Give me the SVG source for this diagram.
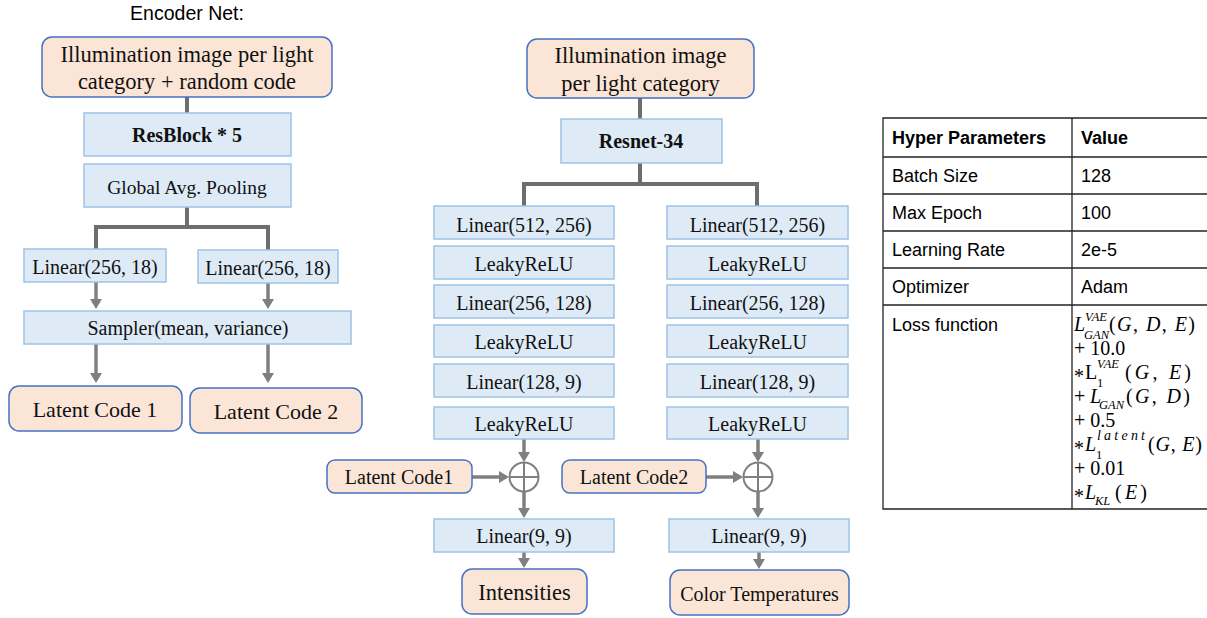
<svg xmlns="http://www.w3.org/2000/svg" width="1207" height="618" viewBox="0 0 1207 618">
<style>
.peach{fill:#fbe5d6;stroke:#4472c4;stroke-width:1.5}
.blue{fill:#deebf7;stroke:#9dc3e6;stroke-width:1.5}
.t{font-family:"Liberation Serif","Times New Roman",serif;fill:#111;text-anchor:middle;font-size:20px}
.b{font-weight:bold}
.tree{stroke:#6e6e6e;stroke-width:4;fill:none}
.arr{stroke:#7f7f7f;stroke-width:3.5;fill:none;marker-end:url(#ah)}
.circ{stroke:#7f7f7f;stroke-width:2;fill:none}
.tb{stroke:#222;stroke-width:1.3;fill:none}
.s{font-family:"Liberation Sans",Arial,sans-serif;font-size:18px;fill:#000}
.m{font-family:"Liberation Serif","Times New Roman",serif;font-size:20px;fill:#000}
.i{font-style:italic}
.sm{font-family:"Liberation Serif","Times New Roman",serif;font-size:12.5px;font-style:italic;fill:#000}
.up{font-style:normal}
</style>
<defs>
<marker id="ah" markerUnits="userSpaceOnUse" viewBox="0 0 10 12" markerWidth="10" markerHeight="12" refX="7" refY="6" orient="auto">
<path d="M0,0 L10,6 L0,12 z" fill="#7f7f7f"/>
</marker>
</defs>

<text x="187" y="20" font-family="Liberation Sans,Arial,sans-serif" font-size="19.5" text-anchor="middle" fill="#000">Encoder Net:</text>

<g id="connectors">
<line class="tree" x1="187" y1="97" x2="187" y2="113"/>
<polyline class="tree" points="96,249 96,227 268,227 268,250"/>
<line class="tree" x1="187" y1="207" x2="187" y2="227"/>
<line class="arr" x1="96" y1="282" x2="96" y2="306"/>
<line class="arr" x1="268" y1="283" x2="268" y2="306"/>
<line class="arr" x1="96" y1="344" x2="96" y2="380"/>
<line class="arr" x1="268" y1="344" x2="268" y2="380"/>

<line class="tree" x1="640" y1="98" x2="640" y2="119"/>
<line class="tree" x1="640" y1="163" x2="640" y2="184"/>
<polyline class="tree" points="524,206 524,184 757,184 757,206"/>

<line class="arr" x1="524" y1="439" x2="524" y2="459"/>
<line class="arr" x1="758" y1="439" x2="758" y2="459"/>
<line class="arr" x1="472" y1="477" x2="506" y2="477"/>
<line class="arr" x1="706" y1="477" x2="740" y2="477"/>
<line class="arr" x1="524" y1="491" x2="524" y2="515"/>
<line class="arr" x1="758" y1="491" x2="758" y2="515"/>
<line class="arr" x1="524" y1="552" x2="524" y2="565"/>
<line class="arr" x1="759" y1="552" x2="759" y2="566"/>
</g>

<g id="enc-input"><rect class="peach" x="42" y="37" width="290" height="60" rx="10"/>
<text class="t" x="187" y="62" style="font-size:22.5px">Illumination image per light</text>
<text class="t" x="187" y="89" style="font-size:22.5px">category + random code</text></g>
<g id="resblock"><rect class="blue" x="84" y="113" width="207" height="43"/><text class="t b" x="187" y="142">ResBlock * 5</text></g>
<g id="gap"><rect class="blue" x="84" y="164" width="207" height="43"/><text class="t" x="187" y="194" style="font-size:19.5px">Global Avg. Pooling</text></g>
<g id="enc-lin1"><rect class="blue" x="24" y="249" width="142" height="33"/><text class="t" x="95" y="274">Linear(256, 18)</text></g>
<g id="enc-lin2"><rect class="blue" x="198" y="250" width="140" height="33"/><text class="t" x="268" y="275">Linear(256, 18)</text></g>
<g id="sampler"><rect class="blue" x="24" y="311" width="327" height="33"/><text class="t" x="188" y="335">Sampler(mean, variance)</text></g>
<g id="lc1"><rect class="peach" x="9" y="386" width="173" height="45" rx="10"/><text class="t" x="95" y="417" style="font-size:22px">Latent Code 1</text></g>
<g id="lc2"><rect class="peach" x="190" y="388" width="172" height="45" rx="10"/><text class="t" x="276" y="419" style="font-size:22px">Latent Code 2</text></g>

<g id="dec-input"><rect class="peach" x="527" y="39" width="227" height="59" rx="10"/>
<text class="t" x="640.5" y="63" style="font-size:22.5px">Illumination image</text>
<text class="t" x="640.5" y="91" style="font-size:22.5px">per light category</text></g>
<g id="resnet"><rect class="blue" x="561" y="119" width="161" height="44"/><text class="t b" x="641" y="148">Resnet-34</text></g>

<g id="l-lin1"><rect class="blue" x="434" y="206" width="180" height="33"/><text class="t" x="524" y="232">Linear(512, 256)</text></g>
<g id="l-act1"><rect class="blue" x="434" y="246" width="180" height="33"/><text class="t" x="524" y="271">LeakyReLU</text></g>
<g id="l-lin2"><rect class="blue" x="434" y="285" width="180" height="33"/><text class="t" x="524" y="310">Linear(256, 128)</text></g>
<g id="l-act2"><rect class="blue" x="434" y="325" width="180" height="32"/><text class="t" x="524" y="349">LeakyReLU</text></g>
<g id="l-lin3"><rect class="blue" x="434" y="364" width="180" height="33"/><text class="t" x="524" y="389">Linear(128, 9)</text></g>
<g id="l-act3"><rect class="blue" x="434" y="407" width="180" height="32"/><text class="t" x="524" y="431">LeakyReLU</text></g>

<g id="r-lin1"><rect class="blue" x="667" y="206" width="181" height="33"/><text class="t" x="757.5" y="232">Linear(512, 256)</text></g>
<g id="r-act1"><rect class="blue" x="667" y="246" width="181" height="33"/><text class="t" x="757.5" y="271">LeakyReLU</text></g>
<g id="r-lin2"><rect class="blue" x="667" y="285" width="181" height="33"/><text class="t" x="757.5" y="310">Linear(256, 128)</text></g>
<g id="r-act2"><rect class="blue" x="667" y="325" width="181" height="32"/><text class="t" x="757.5" y="349">LeakyReLU</text></g>
<g id="r-lin3"><rect class="blue" x="667" y="364" width="181" height="33"/><text class="t" x="757.5" y="389">Linear(128, 9)</text></g>
<g id="r-act3"><rect class="blue" x="667" y="407" width="181" height="32"/><text class="t" x="757.5" y="431">LeakyReLU</text></g>

<g id="lcode1"><rect class="peach" x="327" y="460" width="145" height="33" rx="8"/><text class="t" x="399" y="484">Latent Code1</text></g>
<g id="lcode2"><rect class="peach" x="562" y="460" width="144" height="33" rx="8"/><text class="t" x="634" y="484">Latent Code2</text></g>
<g id="add1"><circle class="circ" cx="524" cy="477" r="14.5"/><line class="circ" x1="509.5" y1="477" x2="538.5" y2="477"/><line class="circ" x1="524" y1="462.5" x2="524" y2="491.5"/></g>
<g id="add2"><circle class="circ" cx="758" cy="477" r="14.5"/><line class="circ" x1="743.5" y1="477" x2="772.5" y2="477"/><line class="circ" x1="758" y1="462.5" x2="758" y2="491.5"/></g>
<g id="l-out"><rect class="blue" x="434" y="519" width="180" height="33"/><text class="t" x="524" y="543">Linear(9, 9)</text></g>
<g id="r-out"><rect class="blue" x="669" y="519" width="180" height="33"/><text class="t" x="759" y="543">Linear(9, 9)</text></g>
<g id="intens"><rect class="peach" x="462" y="569" width="125" height="45" rx="10"/><text class="t" x="524.5" y="600" style="font-size:22.5px">Intensities</text></g>
<g id="colortemp"><rect class="peach" x="670" y="570" width="179" height="45" rx="10"/><text class="t" x="759.5" y="601">Color Temperatures</text></g>

<g id="table">
<polyline class="tb" points="1207,118 883,118 883,509 1207,509"/>
<line class="tb" x1="1072" y1="118" x2="1072" y2="509"/>
<line class="tb" x1="883" y1="157" x2="1207" y2="157"/>
<line class="tb" x1="883" y1="194" x2="1207" y2="194"/>
<line class="tb" x1="883" y1="231" x2="1207" y2="231"/>
<line class="tb" x1="883" y1="268" x2="1207" y2="268"/>
<line class="tb" x1="883" y1="305" x2="1207" y2="305"/>
<text class="s" x="892" y="144" font-weight="bold">Hyper Parameters</text>
<text class="s" x="1081" y="144" font-weight="bold">Value</text>
<text class="s" x="892" y="182">Batch Size</text><text class="s" x="1081" y="182">128</text>
<text class="s" x="892" y="219">Max Epoch</text><text class="s" x="1081" y="219">100</text>
<text class="s" x="892" y="256">Learning Rate</text><text class="s" x="1081" y="256">2e-5</text>
<text class="s" x="892" y="293">Optimizer</text><text class="s" x="1081" y="293">Adam</text>
<text class="s" x="892" y="331">Loss function</text>

<text class="m i" x="1074" y="331">L</text>
<text class="sm" x="1085" y="321">VAE</text><text class="sm" x="1084" y="339">GAN</text>
<text class="m" x="1109" y="331" textLength="86" lengthAdjust="spacing">(<tspan class="i">G</tspan>, <tspan class="i">D</tspan>, <tspan class="i">E</tspan>)</text>

<text class="m" x="1074" y="355">+ 10.0</text>

<text class="m" x="1074" y="383">*</text>
<text class="m" x="1085" y="379">L</text>
<text class="sm" x="1097" y="368">VAE</text><text class="sm up" x="1097" y="387">1</text>
<text class="m" x="1125" y="379" textLength="66" lengthAdjust="spacing">(<tspan class="i">G</tspan>, <tspan class="i">E</tspan>)</text>

<text class="m" x="1074" y="403">+</text>
<text class="m i" x="1090" y="403">L</text>
<text class="sm" x="1099" y="409">GAN</text>
<text class="m" x="1126" y="403" textLength="64" lengthAdjust="spacing">(<tspan class="i">G</tspan>, <tspan class="i">D</tspan>)</text>

<text class="m" x="1074" y="427">+ 0.5</text>

<text class="m" x="1074" y="455">*</text>
<text class="m i" x="1085" y="451">L</text>
<text class="sm" x="1097" y="440" textLength="48" lengthAdjust="spacing" style="font-size:14px">latent</text><text class="sm up" x="1096" y="459">1</text>
<text class="m" x="1148" y="451" textLength="54" lengthAdjust="spacing">(<tspan class="i">G</tspan>, <tspan class="i">E</tspan>)</text>

<text class="m" x="1074" y="475">+ 0.01</text>

<text class="m" x="1074" y="503">*</text>
<text class="m i" x="1085" y="499">L</text>
<text class="sm" x="1095" y="505">KL</text>
<text class="m" x="1115" y="499" textLength="32" lengthAdjust="spacing">(<tspan class="i">E</tspan>)</text>
</g>
</svg>
